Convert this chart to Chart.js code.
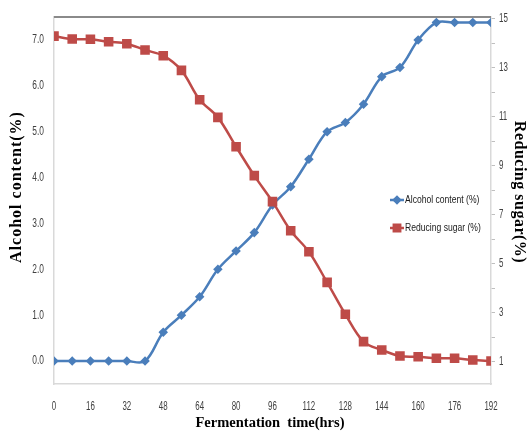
<!DOCTYPE html>
<html>
<head>
<meta charset="utf-8">
<script src="https://cdn.jsdelivr.net/npm/chart.js@4/dist/chart.umd.min.js"></script>
<style>
  html, body { margin: 0; padding: 0; background: #fff; }
  #wrap { width: 527px; height: 432px; }
</style>
</head>
<body>
<div id="wrap"><canvas id="chart" width="527" height="432"></canvas></div>
<script>
// fermentation time (hrs)
const hours = [0, 8, 16, 24, 32, 40, 48, 56, 64, 72, 80, 88, 96, 104, 112, 120, 128, 136, 144, 152, 160, 168, 176, 184, 192];
// alcohol content (%), left axis
const alcohol = [0, 0, 0, 0, 0, 0, 0.63, 1.0, 1.4, 2.0, 2.4, 2.8, 3.4, 3.8, 4.4, 5.0, 5.2, 5.6, 6.2, 6.4, 7.0, 7.38, 7.38, 7.38, 7.38];
// reducing sugar (%), right axis
const sugar = [14.3, 14.18, 14.17, 14.07, 13.99, 13.73, 13.5, 12.9, 11.7, 10.98, 9.78, 8.6, 7.54, 6.35, 5.49, 4.24, 2.94, 1.82, 1.48, 1.23, 1.2, 1.14, 1.14, 1.07, 1.03];

const xTicks = [0, 16, 32, 48, 64, 80, 96, 112, 128, 144, 160, 176, 192];
const leftTicks = [0, 1, 2, 3, 4, 5, 6, 7];
const rightTicks = [1, 2, 3, 4, 5, 6, 7, 8, 9, 10, 11, 12, 13, 14, 15];

const seriesNames = ["Alcohol content (%)", "Reducing sugar (%)"];
const BLUE = "#4a7ebb";
const RED = "#be4b48";
const narrowFont = "'Liberation Sans', Arial, sans-serif";

const toPoints = (ys) => hours.map((h, i) => ({ x: h, y: ys[i] }));

// condensed text: squeeze horizontally around the anchor
function narrowText(ctx, text, x, y, align, squeeze) {
  ctx.save();
  ctx.translate(x, y);
  ctx.scale(squeeze, 1);
  ctx.textAlign = align;
  ctx.fillText(text, 0, 0);
  ctx.restore();
}

// frame top line, tick labels, axis titles and the in-plot legend
const extras = {
  id: "extras",
  beforeDatasetsDraw(chart) {
    const { ctx, chartArea: a } = chart;
    ctx.save();
    ctx.strokeStyle = "#8a8a8a";
    ctx.lineWidth = 2;
    ctx.beginPath();
    ctx.moveTo(a.left, a.top);
    ctx.lineTo(a.right, a.top);
    ctx.stroke();
    ctx.restore();
  },
  afterDraw(chart) {
    const { ctx, scales } = chart;
    ctx.save();

    // tick labels
    ctx.fillStyle = "#404040";
    ctx.font = "12px " + narrowFont;
    ctx.textBaseline = "middle";
    xTicks.forEach((v) => narrowText(ctx, String(v), scales.x.getPixelForValue(v), 407, "center", 0.66));
    leftTicks.forEach((v) => narrowText(ctx, v.toFixed(1), 44, scales.y.getPixelForValue(v), "right", 0.7));
    rightTicks.filter((v) => v % 2 === 1).forEach((v) =>
      narrowText(ctx, String(v), 499, scales.y2.getPixelForValue(v), "left", 0.66));

    // axis titles
    ctx.fillStyle = "#000";
    ctx.font = "bold 16px 'Liberation Serif', 'Times New Roman', serif";
    ctx.textAlign = "center";

    ctx.save();
    ctx.letterSpacing = "1px";
    ctx.translate(17, 187);
    ctx.rotate(-Math.PI / 2);
    ctx.fillText("Alcohol content(%)", 0, 0);
    ctx.restore();

    ctx.save();
    ctx.letterSpacing = "0.5px";
    ctx.translate(519, 192);
    ctx.rotate(Math.PI / 2);
    ctx.fillText("Reducing sugar(%)", 0, 0);
    ctx.restore();

    ctx.font = "bold 14.5px 'Liberation Serif', 'Times New Roman', serif";
    ctx.fillText("Fermentation  time(hrs)", 270, 423);

    // legend
    const items = [
      { y: 200, color: BLUE, style: "rectRot", r: 3 },
      { y: 228, color: RED, style: "rect", r: 4.5 },
    ];
    ctx.font = "11px " + narrowFont;
    items.forEach((it, i) => {
      ctx.strokeStyle = it.color;
      ctx.lineWidth = 2.5;
      ctx.beginPath();
      ctx.moveTo(390, it.y);
      ctx.lineTo(404, it.y);
      ctx.stroke();
      Chart.helpers.drawPoint(ctx, { pointStyle: it.style, radius: it.r, borderWidth: 1 }, 397, it.y);
      ctx.fillStyle = it.color;
      ctx.fill();
      ctx.fillStyle = "#1a1a1a";
      narrowText(ctx, seriesNames[i], 405, it.y, "left", 0.78);
    });
    ctx.restore();
  }
};

new Chart(document.getElementById("chart"), {
  type: "line",
  data: {
    datasets: [
      {
        label: seriesNames[0],
        data: toPoints(alcohol),
        yAxisID: "y",
        borderColor: BLUE,
        backgroundColor: BLUE,
        borderWidth: 2.5,
        pointStyle: "rectRot",
        pointRadius: 3,
        tension: 0.35,
        order: 1
      },
      {
        label: seriesNames[1],
        data: toPoints(sugar),
        yAxisID: "y2",
        borderColor: RED,
        backgroundColor: RED,
        borderWidth: 2.5,
        pointStyle: "rect",
        pointRadius: 5,
        tension: 0.35,
        order: 0
      }
    ]
  },
  options: {
    responsive: false,
    animation: false,
    layout: { padding: { top: 17, left: 0, right: 0, bottom: 0 } },
    plugins: {
      legend: { display: false },
      tooltip: { enabled: false }
    },
    scales: {
      x: {
        type: "linear",
        min: 0,
        max: 192,
        afterBuildTicks: (s) => { s.ticks = xTicks.map((v) => ({ value: v })); },
        afterFit: (s) => { s.height = 48; },
        grid: { display: false, drawTicks: false },
        border: { display: true, color: "#d9d9d9", width: 1.5 },
        ticks: { display: false }
      },
      y: {
        position: "left",
        min: -0.5,
        max: 7.5,
        afterBuildTicks: (s) => { s.ticks = leftTicks.map((v) => ({ value: v })); },
        afterFit: (s) => { s.width = 54; },
        grid: { display: false, drawTicks: false },
        border: { display: true, color: "#d9d9d9", width: 1.5 },
        ticks: { display: false }
      },
      y2: {
        position: "right",
        min: 0.09,
        max: 15.08,
        afterBuildTicks: (s) => { s.ticks = rightTicks.map((v) => ({ value: v })); },
        afterFit: (s) => { s.width = 36; },
        grid: { display: true, drawOnChartArea: false, drawTicks: true, tickLength: 4, color: "#bfbfbf" },
        border: { display: true, color: "#d9d9d9", width: 1.5 },
        ticks: { display: false }
      }
    }
  },
  plugins: [extras]
});
</script>
</body>
</html>
